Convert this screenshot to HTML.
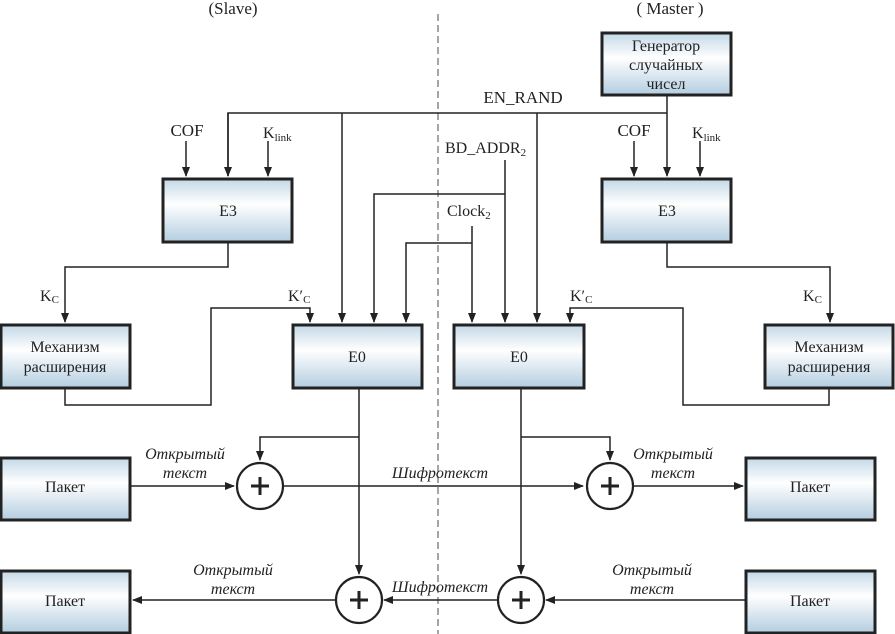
<!DOCTYPE html>
<html><head><meta charset="utf-8"><style>
body{margin:0;background:#fff}
svg{display:block}
svg text{font-family:"Liberation Serif","DejaVu Serif",serif !important;fill:#222}
</style></head><body>
<svg width="895" height="634" viewBox="0 0 895 634" font-family="Liberation Serif, serif" style="font-family:'Liberation Serif',serif">
<defs>
<linearGradient id="g" x1="0" y1="0" x2="0" y2="1">
<stop offset="0" stop-color="#c3d8e6"/><stop offset="0.4" stop-color="#ffffff"/><stop offset="1" stop-color="#b3cde0"/>
</linearGradient>
<marker id="a" markerWidth="10" markerHeight="10" refX="9" refY="5" orient="auto" markerUnits="userSpaceOnUse">
<path d="M0,1 L10,5 L0,9 z" fill="#222"/></marker>
</defs>
<line x1="438" y1="14" x2="438" y2="634" stroke="#777" stroke-width="1.3" stroke-dasharray="7,4"/>
<text x="233" y="14" font-size="17" text-anchor="middle" style="font-family:'Liberation Serif',serif">(Slave)</text>
<text x="670" y="14" font-size="17" text-anchor="middle" style="font-family:'Liberation Serif',serif">( Master )</text>
<g stroke="#222" stroke-width="3" fill="url(#g)">
<rect x="602" y="33" width="129" height="62"/>
<rect x="163" y="179" width="129" height="63"/>
<rect x="602" y="179" width="129" height="63"/>
<rect x="1" y="325" width="129" height="63"/>
<rect x="293" y="325" width="129" height="63"/>
<rect x="454" y="325" width="130" height="63"/>
<rect x="765" y="325" width="128" height="63"/>
<rect x="1" y="458" width="129" height="62"/>
<rect x="1" y="571" width="129" height="62"/>
<rect x="746" y="458" width="129" height="62"/>
<rect x="746" y="571" width="129" height="62"/>
</g>
<g stroke="#222" stroke-width="1.5" fill="none">
<polyline points="228,176 228,113 667,113"/>
<line x1="667" y1="95" x2="667" y2="176" marker-end="url(#a)"/>
<line x1="228" y1="113" x2="228" y2="176" marker-end="url(#a)"/>
<line x1="186" y1="141" x2="186" y2="176" marker-end="url(#a)"/>
<line x1="268" y1="141" x2="268" y2="176" marker-end="url(#a)"/>
<line x1="634" y1="141" x2="634" y2="176" marker-end="url(#a)"/>
<line x1="700" y1="141" x2="700" y2="176" marker-end="url(#a)"/>
<line x1="342" y1="113" x2="342" y2="322" marker-end="url(#a)"/>
<line x1="537" y1="113" x2="537" y2="322" marker-end="url(#a)"/>
<polyline points="505,160 505,322" marker-end="url(#a)"/>
<polyline points="505,194 374,194 374,322" marker-end="url(#a)"/>
<polyline points="472,226 472,322" marker-end="url(#a)"/>
<polyline points="472,243 406,243 406,322" marker-end="url(#a)"/>
<polyline points="228,242 228,267 65,267 65,322" marker-end="url(#a)"/>
<polyline points="667,242 667,267 830,267 830,322" marker-end="url(#a)"/>
<polyline points="65,388 65,405 211,405 211,308 310,308 310,322" marker-end="url(#a)"/>
<polyline points="829,388 829,405 683,405 683,308 570,308 570,322" marker-end="url(#a)"/>
<polyline points="359,388 359,574" marker-end="url(#a)"/>
<polyline points="359,437 260,437 260,460" marker-end="url(#a)"/>
<polyline points="521,388 521,574" marker-end="url(#a)"/>
<polyline points="521,437 610,437 610,460" marker-end="url(#a)"/>
<line x1="130" y1="486" x2="234" y2="486" marker-end="url(#a)"/>
<line x1="283" y1="486" x2="583" y2="486" marker-end="url(#a)"/>
<line x1="633" y1="486" x2="743" y2="486" marker-end="url(#a)"/>
<line x1="746" y1="600" x2="546" y2="600" marker-end="url(#a)"/>
<line x1="498" y1="600" x2="384" y2="600" marker-end="url(#a)"/>
<line x1="336" y1="600" x2="133" y2="600" marker-end="url(#a)"/>
</g>
<g stroke="#222" stroke-width="2.2" fill="#fff">
<circle cx="260" cy="486" r="23"/><circle cx="610" cy="486" r="23"/>
<circle cx="359" cy="600" r="23"/><circle cx="521" cy="600" r="23"/>
</g>
<g stroke="#222" stroke-width="3">
<path d="M251,486h18M260,477v18"/><path d="M601,486h18M610,477v18"/>
<path d="M350,600h18M359,591v18"/><path d="M512,600h18M521,591v18"/>
</g>
<g font-size="16" text-anchor="middle" style="font-family:'Liberation Serif',serif">
<text x="666" y="51">Генератор</text><text x="666" y="70">случайных</text><text x="666" y="89">чисел</text>
<text x="228" y="216">E3</text><text x="667" y="216">E3</text>
<text x="357" y="362">E0</text><text x="519" y="362">E0</text>
<text x="65" y="352">Механизм</text><text x="65" y="372">расширения</text>
<text x="829" y="352">Механизм</text><text x="829" y="372">расширения</text>
<text x="65" y="492">Пакет</text><text x="65" y="606">Пакет</text>
<text x="810" y="492">Пакет</text><text x="810" y="606">Пакет</text>
<text x="523" y="103" font-size="17">EN_RAND</text>
<text x="187" y="136" font-size="17">COF</text><text x="634" y="136" font-size="17">COF</text>
</g>
<g font-size="16" style="font-family:'Liberation Serif',serif">
<text x="263" y="138">K<tspan font-size="11" dy="3">link</tspan></text>
<text x="692" y="138">K<tspan font-size="11" dy="3">link</tspan></text>
<text x="445" y="153">BD_ADDR<tspan font-size="11" dy="3">2</tspan></text>
<text x="447" y="216">Clock<tspan font-size="11" dy="3">2</tspan></text>
<text x="40" y="301">K<tspan font-size="11" dy="2">C</tspan></text>
<text x="803" y="301">K<tspan font-size="11" dy="2">C</tspan></text>
<text x="288" y="301">K′<tspan font-size="11" dy="2">C</tspan></text>
<text x="570" y="301">K′<tspan font-size="11" dy="2">C</tspan></text>
</g>
<g font-size="16" font-style="italic" text-anchor="middle" style="font-family:'Liberation Serif',serif;font-style:italic">
<text x="185" y="459">Открытый</text><text x="185" y="478">текст</text>
<text x="673" y="459">Открытый</text><text x="673" y="478">текст</text>
<text x="440" y="478">Шифротекст</text>
<text x="440" y="592">Шифротекст</text>
<text x="233" y="575">Открытый</text><text x="233" y="594">текст</text>
<text x="652" y="575">Открытый</text><text x="652" y="594">текст</text>
</g>
</svg>
</body></html>
